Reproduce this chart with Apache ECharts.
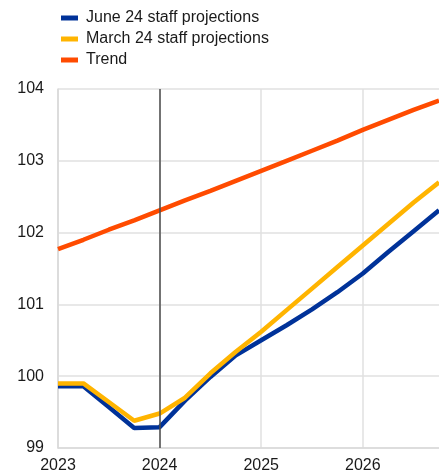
<!DOCTYPE html>
<html>
<head>
<meta charset="utf-8">
<script src="https://cdn.jsdelivr.net/npm/echarts@6/dist/echarts.min.js"></script>
<style>
  html, body { margin: 0; padding: 0; background: #fff; }
  #chart { width: 439px; height: 475px; }
</style>
</head>
<body>
<div id="chart"></div>
<script>
// quarters 2023Q1 .. 2026Q4
const quarters = [
  '2023Q1', '2023Q2', '2023Q3', '2023Q4',
  '2024Q1', '2024Q2', '2024Q3', '2024Q4',
  '2025Q1', '2025Q2', '2025Q3', '2025Q4',
  '2026Q1', '2026Q2', '2026Q3', '2026Q4'
]
const june24 = [99.86, 99.86, 99.57, 99.28, 99.29, 99.66, 99.99, 100.29,
  100.50, 100.71, 100.93, 101.17, 101.43, 101.73, 102.02, 102.31]
const march24 = [99.90, 99.90, 99.64, 99.38, 99.48, 99.70, 100.04, 100.34,
  100.62, 100.92, 101.22, 101.52, 101.82, 102.12, 102.42, 102.70]
const trend = [101.77, 101.90, 102.04, 102.17, 102.31, 102.45, 102.58, 102.72,
  102.86, 103.00, 103.14, 103.28, 103.43, 103.57, 103.71, 103.84]
const cutoff = '2024Q1'

const font = 'Liberation Sans, Arial, sans-serif'
const isYearStart = (i) => i % 4 === 0

let myChart = echarts.init(document.getElementById('chart'))
let option = {
  animation: false,
  textStyle: { fontFamily: font },
  legend: {
    orient: 'vertical',
    left: 56,
    top: 5,
    itemWidth: 17,
    itemHeight: 5,
    itemGap: 5,
    icon: 'rect',
    textStyle: { fontSize: 16, color: '#1a1a1a', fontFamily: font, padding: [0, 0, 0, 3] },
    data: ['June 24 staff projections', 'March 24 staff projections', 'Trend']
  },
  grid: {
    left: 58,
    right: 0,
    top: 89,
    bottom: 27,
    containLabel: false
  },
  xAxis: {
    type: 'category',
    data: quarters,
    boundaryGap: false,
    axisLine: { show: true, lineStyle: { color: '#d9d9d9', width: 1.5 } },
    axisTick: { show: false },
    axisLabel: {
      interval: isYearStart,
      formatter: (v) => v.slice(0, 4),
      fontSize: 16,
      color: '#1a1a1a',
      margin: 10
    },
    splitLine: {
      show: true,
      interval: isYearStart,
      lineStyle: { color: '#e0e0e0', width: 1.5 }
    }
  },
  yAxis: {
    type: 'value',
    min: 99,
    max: 104,
    interval: 1,
    axisLine: { show: true, lineStyle: { color: '#d9d9d9', width: 1.5 } },
    axisTick: { show: false },
    axisLabel: { fontSize: 16, color: '#1a1a1a', margin: 14 },
    splitLine: { lineStyle: { color: '#e0e0e0', width: 1.5 } }
  },
  series: [
    {
      name: 'June 24 staff projections',
      type: 'line',
      data: june24,
      symbol: 'none',
      color: '#003299',
      lineStyle: { width: 4.5 },
      markLine: {
        silent: true,
        symbol: 'none',
        label: { show: false },
        lineStyle: { color: '#4d4d4d', width: 1.5, type: 'solid' },
        data: [{ xAxis: cutoff }]
      }
    },
    {
      name: 'March 24 staff projections',
      type: 'line',
      data: march24,
      symbol: 'none',
      color: '#ffb400',
      lineStyle: { width: 4.5 }
    },
    {
      name: 'Trend',
      type: 'line',
      data: trend,
      symbol: 'none',
      color: '#ff4b00',
      lineStyle: { width: 4.5 }
    }
  ]
}
myChart.setOption(option)
</script>
</body>
</html>
